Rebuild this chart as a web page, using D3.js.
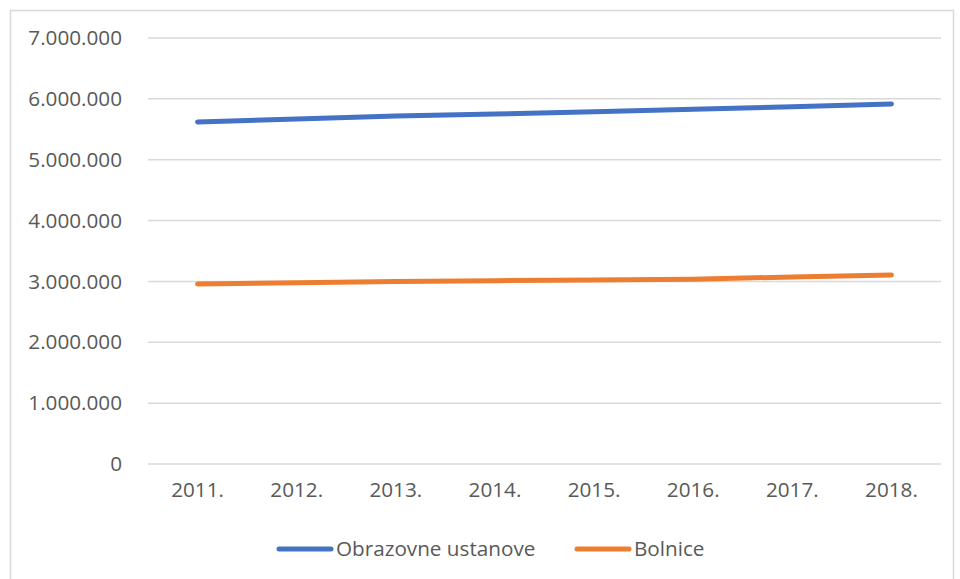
<!DOCTYPE html>
<html>
<head>
<meta charset="utf-8">
<script src="https://cdn.jsdelivr.net/npm/d3@7"></script>
<style>
	body { margin: 0; background: #fff; }
	#idContent { width: 960px; height: 579px; }
	.axis text { font-family: "Open Sans", sans-serif; font-size: 20.7px; fill: #595959; }
	.legend text { font-family: "Open Sans", sans-serif; font-size: 20.7px; fill: #595959; }
</style>
</head>
<body>
<div id="idContent"></div>
<script>
var aYears = ["2011.", "2012.", "2013.", "2014.", "2015.", "2016.", "2017.", "2018."];
var aObrazovne = [5620000, 5670000, 5720000, 5750000, 5790000, 5830000, 5870000, 5915000];
var aBolnice = [2957000, 2979000, 2999000, 3013000, 3025000, 3036000, 3074000, 3105000];
var aYTicks = [0, 1000000, 2000000, 3000000, 4000000, 5000000, 6000000, 7000000];
var aSeriesNames = ["Obrazovne ustanove", "Bolnice"];
var aSeriesColors = ["#4472C4", "#ED7D31"];

function formatNum(n) {
	// dots as thousand separators
	return n.toString().replace(/\B(?=(\d{3})+(?!\d))/g, ".");
}

function createGraph() {
	var margin = { top: 38, right: 19, bottom: 115, left: 148 },
		width = 960 - margin.left - margin.right,
		height = 579 - margin.top - margin.bottom;

	var svg = d3.select("#idContent").append("svg")
		.attr("width", 960)
		.attr("height", 579);

	// outer frame
	svg.append("rect")
		.attr("x", 10.5).attr("y", 10.5)
		.attr("width", 943).attr("height", 600)
		.attr("fill", "none")
		.attr("stroke", "#d9d9d9")
		.attr("stroke-width", 1.5);

	var oChart = svg.append("g")
		.attr("transform", "translate(" + margin.left + "," + margin.top + ")");

	var x = d3.scaleBand().domain(aYears).range([0, width]);
	var y = d3.scaleLinear().domain([0, 7000000]).range([height, 0]);

	// gridlines
	oChart.append("g")
		.selectAll("line")
		.data(aYTicks)
		.enter().append("line")
		.attr("x1", 0).attr("x2", width)
		.attr("y1", function (d) { return y(d); })
		.attr("y2", function (d) { return y(d); })
		.attr("stroke", "#d9d9d9")
		.attr("stroke-width", 1.5);

	var yAxis = oChart.append("g")
		.attr("class", "y axis")
		.call(d3.axisLeft(y).tickValues(aYTicks).tickFormat(formatNum).tickSize(0).tickPadding(26));
	yAxis.select(".domain").remove();

	var xAxis = oChart.append("g")
		.attr("class", "x axis")
		.attr("transform", "translate(0," + height + ")")
		.call(d3.axisBottom(x).tickSize(0).tickPadding(18));
	xAxis.select(".domain").remove();

	var line = d3.line()
		.x(function (d, i) { return x(aYears[i]) + x.bandwidth() / 2; })
		.y(function (d) { return y(d); });

	[aObrazovne, aBolnice].forEach(function (aValues, i) {
		oChart.append("path")
			.datum(aValues)
			.attr("fill", "none")
			.attr("stroke", aSeriesColors[i])
			.attr("stroke-width", 5)
			.attr("stroke-linecap", "round")
			.attr("stroke-linejoin", "round")
			.attr("d", line);
	});

	// legend
	var aLegendX = [279, 577];
	var oLegend = svg.append("g").attr("class", "legend");
	aSeriesNames.forEach(function (name, i) {
		var g = oLegend.append("g").attr("transform", "translate(" + aLegendX[i] + ",549)");
		g.append("line")
			.attr("x1", 0).attr("x2", 52)
			.attr("stroke", aSeriesColors[i])
			.attr("stroke-width", 5)
			.attr("stroke-linecap", "round");
		g.append("text")
			.attr("x", 57)
			.attr("dy", "0.35em")
			.text(name);
	});
}

createGraph();
</script>
</body>
</html>
